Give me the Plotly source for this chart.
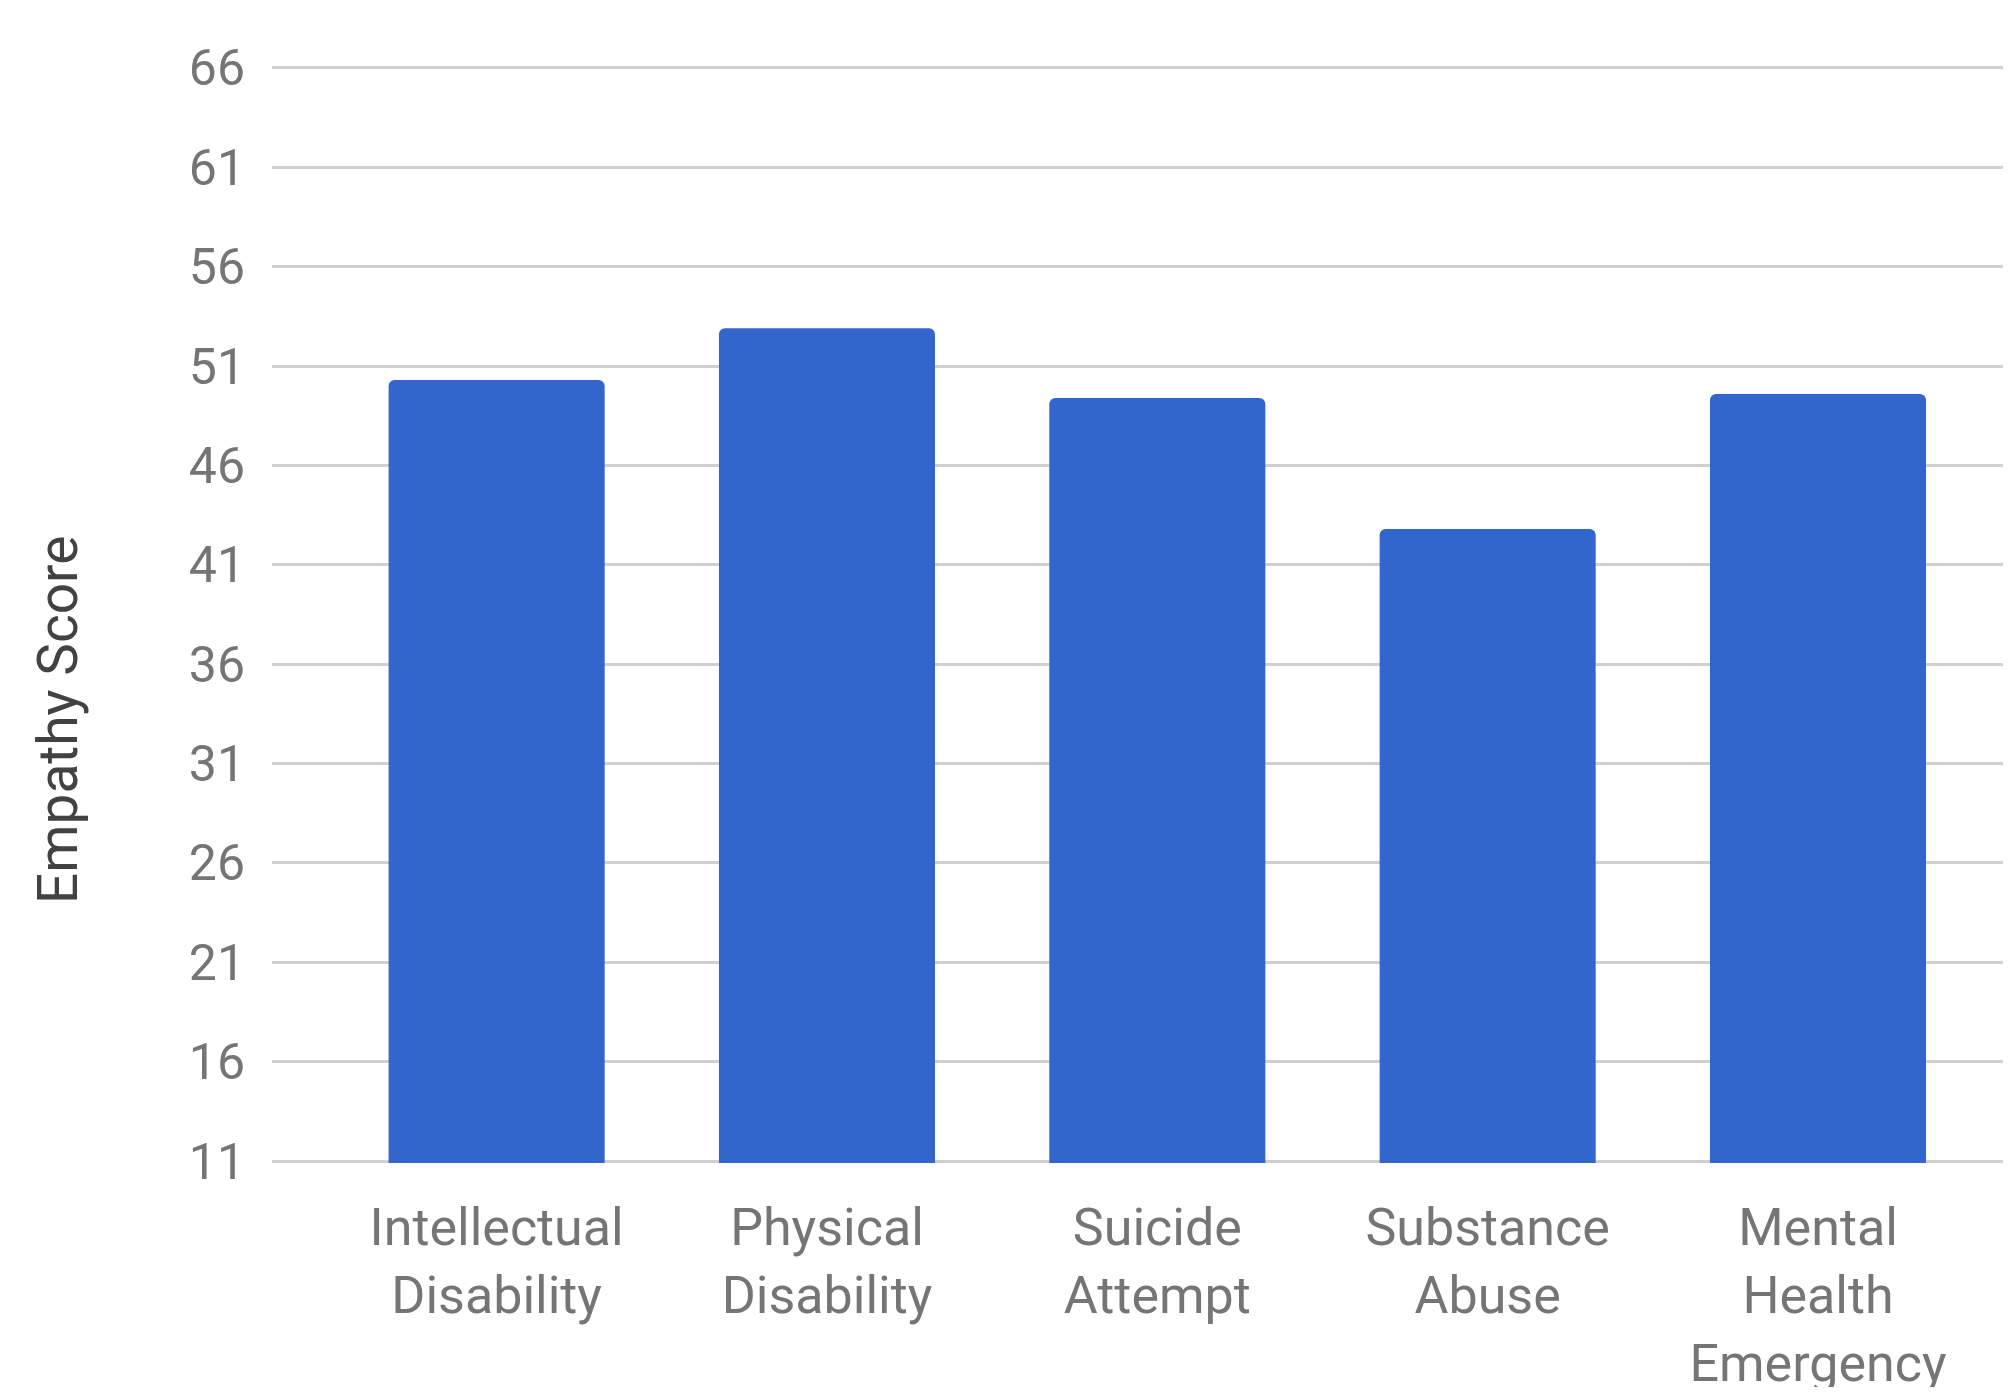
import plotly.graph_objects as go

categories = ["Intellectual<br>Disability", "Physical<br>Disability", "Suicide<br>Attempt",
              "Substance<br>Abuse", "Mental<br>Health<br>Emergency"]
scores = [50.3, 52.9, 49.4, 42.8, 49.6]
y_ticks = [11, 16, 21, 26, 31, 36, 41, 46, 51, 56, 61, 66]
y_title = "Empathy Score"

# page has an 8px body margin; compensate so the figure lands where the reference is
W, H = 1995, 1379
ml, mr, mt, mb = 264, 0, 58, 224

fig = go.Figure(go.Bar(
    x=list(range(len(categories))),
    y=scores,
    width=0.654,
    marker=dict(color="#3366CC", cornerradius=6, line=dict(width=0)),
))

fig.update_layout(
    width=W, height=H,
    margin=dict(l=ml, r=mr, t=mt, b=mb, pad=0, autoexpand=False),
    paper_bgcolor="white", plot_bgcolor="white",
    font=dict(family="Roboto", color="#757575"),
    showlegend=False,
    xaxis=dict(
        range=[-0.68, 4.56],
        tickmode="array",
        tickvals=list(range(len(categories))),
        ticktext=categories,
        tickfont=dict(size=52, color="#757575"),
        showgrid=False, zeroline=False, showline=False,
        ticks="outside", ticklen=19, tickcolor="rgba(0,0,0,0)",
        automargin=False,
    ),
    yaxis=dict(
        range=[10.9, 66.1],
        tickmode="array",
        tickvals=y_ticks,
        ticktext=[str(v) for v in y_ticks],
        tickfont=dict(size=50, color="#757575"),
        showgrid=True, gridcolor="#d0d0d0", gridwidth=2.5,
        zeroline=False, showline=False,
        ticklabelstandoff=26,
        automargin=False,
    ),
    annotations=[dict(
        text=y_title, textangle=-90,
        xref="paper", yref="paper",
        x=(50 - ml) / (W - ml - mr), y=(H - mb - 712) / (H - mt - mb),
        xanchor="center", yanchor="middle",
        showarrow=False,
        font=dict(family="Roboto", size=55, color="#424242"),
    )],
)

fig.write_html("out.html")
